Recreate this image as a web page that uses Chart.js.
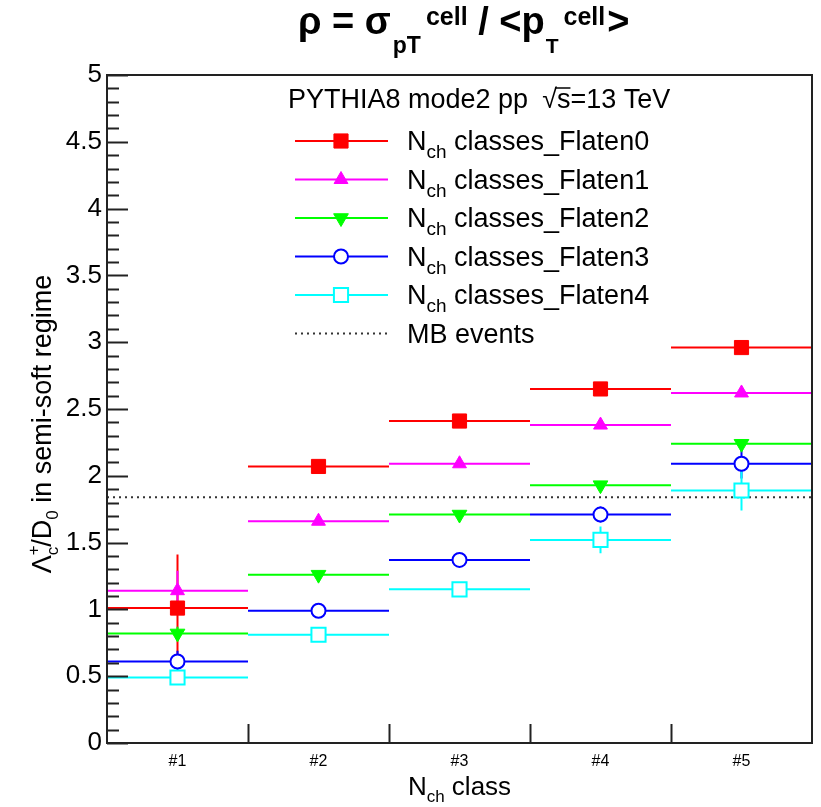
<!DOCTYPE html>
<html><head><meta charset="utf-8">
<script src="https://cdn.jsdelivr.net/npm/chart.js@4.4.1/dist/chart.umd.min.js"></script>
<style>html,body{margin:0;padding:0;background:#fff;}#wrap{width:821px;height:807px;position:relative;}</style>
</head><body><div id="wrap"><canvas id="c" width="821" height="807"></canvas></div>
<script>
// ---- data ----
const classLabels = ['#1', '#2', '#3', '#4', '#5'];
const seriesNames = ['classes_Flaten0', 'classes_Flaten1', 'classes_Flaten2', 'classes_Flaten3', 'classes_Flaten4'];
const flaten0 = [1.01, 2.07, 2.41, 2.65, 2.96];
const flaten1 = [1.14, 1.66, 2.09, 2.38, 2.62];
const flaten2 = [0.82, 1.26, 1.71, 1.93, 2.24];
const flaten3 = [0.61, 0.99, 1.37, 1.71, 2.09];
const flaten4 = [0.49, 0.81, 1.15, 1.52, 1.89];
const err0 = [0.40, 0.02, 0.02, 0.02, 0.03];
const err1 = [0.15, 0.02, 0.02, 0.02, 0.03];
const err2 = [0.05, 0.02, 0.02, 0.02, 0.03];
const err3 = [0.08, 0.02, 0.02, 0.06, 0.11];
const err4 = [0.03, 0.02, 0.02, 0.10, 0.15];
const mbValue = 1.84;
const yTickLabels = ['0', '0.5', '1', '1.5', '2', '2.5', '3', '3.5', '4', '4.5', '5'];
const legendHeader = 'PYTHIA8 mode2 pp';
const mbLabel = 'MB events';

// ---- styles ----
const FONT = '"Liberation Sans", Arial, Helvetica, sans-serif';
const values = [flaten0, flaten1, flaten2, flaten3, flaten4];
const errors = [err0, err1, err2, err3, err4];
const colors = ['#ff0000', '#ff00ff', '#00ff00', '#0000ff', '#00ffff'];
const markers = [
  {pointStyle: 'rect', radius: 10, fill: true, rotation: 0},
  {pointStyle: 'triangle', radius: 8, fill: true, rotation: 0},
  {pointStyle: 'triangle', radius: 8.5, fill: true, rotation: 180},
  {pointStyle: 'circle', radius: 7, fill: false, rotation: 0},
  {pointStyle: 'rect', radius: 10, fill: false, rotation: 0}
];

const datasets = [];
values.forEach((vals, s) => {
  const h = [], e = [], m = [];
  vals.forEach((v, i) => {
    h.push({x: i, y: v}, {x: i + 1, y: v}, {x: i + 1, y: null});
    e.push({x: i + 0.5, y: v - errors[s][i]}, {x: i + 0.5, y: v + errors[s][i]}, {x: i + 0.5, y: null});
    m.push({x: i + 0.5, y: v});
  });
  datasets.push({type: 'line', data: h, borderColor: colors[s], borderWidth: 2, pointRadius: 0, spanGaps: false, order: 100 - s});
  datasets.push({type: 'line', data: e, borderColor: colors[s], borderWidth: 2, pointRadius: 0, spanGaps: false, order: 100 - s});
  const mk = markers[s];
  datasets.push({type: 'scatter', data: m, pointStyle: mk.pointStyle, pointRadius: mk.radius, pointRotation: mk.rotation,
    backgroundColor: mk.fill ? colors[s] : '#ffffff', borderColor: colors[s], borderWidth: mk.fill ? 1 : 2, order: 10 - s});
});
datasets.push({type: 'line', data: [{x: 0, y: mbValue}, {x: classLabels.length, y: mbValue}], borderColor: '#333333',
  borderWidth: 2, borderDash: [2, 4], pointRadius: 0, order: 300});

function drawRich(ctx, x, y, parts, measureOnly) {
  let cx = x;
  parts.forEach(p => {
    ctx.font = (p.bold ? 'bold ' : '') + p.size + 'px ' + FONT;
    if (!measureOnly) ctx.fillText(p.t, cx, y + (p.dy || 0));
    cx += ctx.measureText(p.t).width + (p.gap || 0);
  });
  return cx - x;
}

const decor = {
  id: 'decor',
  afterDraw(chart) {
    const ctx = chart.ctx, xs = chart.scales.x, ys = chart.scales.y, a = chart.chartArea;
    ctx.save();
    // ticks (inside)
    ctx.strokeStyle = '#222'; ctx.lineWidth = 2;
    for (let k = 0; k <= 50; k++) {
      const v = k / 10, py = Math.round(ys.getPixelForValue(v)) + 0.5;
      const len = (k % 5 === 0) ? 21 : 12;
      ctx.beginPath(); ctx.moveTo(a.left, py); ctx.lineTo(a.left + len, py); ctx.stroke();
    }
    for (let i = 1; i < classLabels.length; i++) {
      const px = Math.round(xs.getPixelForValue(i)) + 0.5;
      ctx.beginPath(); ctx.moveTo(px, a.bottom); ctx.lineTo(px, a.bottom - 19); ctx.stroke();
    }
    // frame
    ctx.strokeRect(a.left, a.top, a.right - a.left, a.bottom - a.top);

    ctx.fillStyle = '#000'; ctx.textBaseline = 'alphabetic'; ctx.textAlign = 'left';
    // title
    const tparts = [
      {t: 'ρ = σ', size: 38, bold: true, gap: 2},
      {t: 'pT', size: 23, bold: true, dy: 19, gap: 5},
      {t: 'cell', size: 25, bold: true, dy: -9},
      {t: ' / <p', size: 38, bold: true, gap: 1},
      {t: 'T', size: 21, bold: true, dy: 19, gap: 5},
      {t: 'cell', size: 25, bold: true, dy: -9, gap: 2},
      {t: '>', size: 38, bold: true}
    ];
    drawRich(ctx, 298, 34, tparts);

    // x axis title
    const xparts = [{t: 'N', size: 26}, {t: 'ch', size: 17, dy: 7}, {t: ' class', size: 26}];
    const xw = drawRich(ctx, 0, 0, xparts, true);
    drawRich(ctx, (a.left + a.right) / 2 - xw / 2 + 0, 795, xparts);

    // y axis title
    const yparts = [{t: 'Λ', size: 27}, {t: '+', size: 17, dy: -12, gap: -10}, {t: 'c', size: 17, dy: 7},
      {t: '/D', size: 27}, {t: '0', size: 17, dy: 7}, {t: ' in semi-soft regime', size: 27}];
    const yw = drawRich(ctx, 0, 0, yparts, true);
    ctx.save();
    ctx.translate(51, 424); ctx.rotate(-Math.PI / 2);
    drawRich(ctx, -yw / 2, 0, yparts);
    ctx.restore();

    // legend
    const lx0 = 295, lx1 = 388, lmx = 341, ltx = 407;
    ctx.fillStyle = '#000';
    ctx.font = '27px ' + FONT;
    let hx = 288;
    ctx.fillText(legendHeader, hx, 108);
    hx += ctx.measureText(legendHeader).width + 14;
    ctx.fillText('√', hx, 108);
    hx += ctx.measureText('√').width;
    const sw = ctx.measureText('s').width;
    ctx.fillText('s', hx, 108);
    ctx.lineWidth = 1.5; ctx.strokeStyle = '#000';
    ctx.beginPath(); ctx.moveTo(hx - 2, 88); ctx.lineTo(hx + sw, 88); ctx.stroke();
    hx += sw;
    ctx.fillText('=13 TeV', hx, 108);

    for (let s = 0; s < 6; s++) {
      const ly = 141 + 38.5 * s;
      if (s < 5) {
        ctx.strokeStyle = colors[s]; ctx.lineWidth = 2; ctx.setLineDash([]);
        ctx.beginPath(); ctx.moveTo(lx0, ly); ctx.lineTo(lx1, ly); ctx.stroke();
        const mk = markers[s];
        ctx.fillStyle = mk.fill ? colors[s] : '#ffffff';
        ctx.strokeStyle = colors[s]; ctx.lineWidth = mk.fill ? 1 : 2;
        Chart.helpers.drawPoint(ctx, {pointStyle: mk.pointStyle, radius: mk.radius, rotation: mk.rotation, borderWidth: ctx.lineWidth}, lmx, ly);
        ctx.fillStyle = '#000';
        drawRich(ctx, ltx, ly + 9, [{t: 'N', size: 27}, {t: 'ch', size: 19, dy: 8}, {t: ' ' + seriesNames[s], size: 27}]);
      } else {
        ctx.strokeStyle = '#333'; ctx.lineWidth = 2; ctx.setLineDash([2, 4]);
        ctx.beginPath(); ctx.moveTo(lx0, ly); ctx.lineTo(lx1, ly); ctx.stroke();
        ctx.setLineDash([]);
        ctx.fillStyle = '#000'; ctx.font = '27px ' + FONT;
        ctx.fillText(mbLabel, ltx, ly + 9);
      }
    }
    ctx.restore();
  }
};

new Chart(document.getElementById('c'), {
  data: {datasets},
  options: {
    responsive: false, animation: false, devicePixelRatio: 1,
    layout: {autoPadding: false, padding: {top: 75, right: 9, left: 0, bottom: 0}},
    plugins: {legend: {display: false}, tooltip: {enabled: false}, title: {display: false}},
    scales: {
      x: {type: 'linear', min: 0, max: classLabels.length,
        grid: {display: false, drawTicks: false}, border: {display: false},
        afterBuildTicks: sc => { sc.ticks = classLabels.map((l, i) => ({value: i + 0.5})); },
        afterFit: sc => { sc.height = 64; },
        ticks: {padding: 9, color: '#000', font: {family: FONT, size: 16}, maxRotation: 0, autoSkip: false,
          callback: (v, i) => classLabels[i]}},
      y: {type: 'linear', min: 0, max: 5,
        grid: {display: false, drawTicks: false}, border: {display: false},
        afterFit: sc => { sc.width = 107; },
        ticks: {stepSize: 0.5, padding: 5, color: '#000', font: {family: FONT, size: 26},
          callback: (v, i) => yTickLabels[i]}}
    }
  },
  plugins: [decor]
});
</script></body></html>
